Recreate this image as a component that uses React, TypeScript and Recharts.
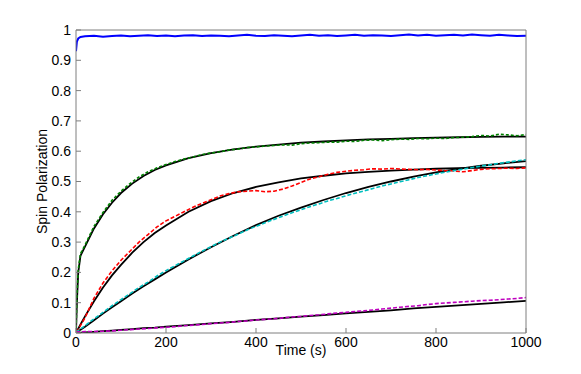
import { LineChart, Line, XAxis, YAxis, Label } from 'recharts';

// sample times (s) for the measured traces
const dataT = [
  0, 2, 5, 10,
  20, 40, 60, 80, 100,
  120, 140, 160, 180, 200,
  220, 240, 260, 280, 300,
  320, 340, 360, 380, 400,
  420, 440, 460, 480, 500,
  520, 540, 560, 580, 600,
  620, 640, 660, 680, 700,
  720, 740, 760, 780, 800,
  820, 840, 860, 880, 900,
  920, 940, 960, 980, 1000,
];

// sample times (s) for the fitted curves
const fitT = [
  0, 2, 5, 10, 20, 40, 60, 80, 100, 125, 150, 175, 200, 250, 300, 350, 400,
  450, 500, 550, 600, 650, 700, 750, 800, 850, 900, 950, 1000,
];

const blueData = [
  0.93, 0.962, 0.972, 0.977,
  0.979, 0.981, 0.978, 0.98, 0.982,
  0.979, 0.981, 0.983, 0.98, 0.982,
  0.979, 0.982, 0.983, 0.98, 0.982,
  0.981, 0.979, 0.982, 0.984, 0.981,
  0.98, 0.983, 0.981, 0.979, 0.982,
  0.984, 0.981, 0.983, 0.98, 0.982,
  0.984, 0.981, 0.983, 0.982, 0.98,
  0.983, 0.985, 0.982, 0.984, 0.981,
  0.983, 0.984, 0.982, 0.985, 0.983,
  0.981, 0.984, 0.982, 0.98, 0.981,
];

const greenData = [
  0, 0.12, 0.21, 0.262,
  0.29, 0.352, 0.398, 0.438, 0.468,
  0.493, 0.515, 0.532, 0.545, 0.556,
  0.566, 0.574, 0.581, 0.589, 0.594,
  0.598, 0.604, 0.607, 0.612, 0.614,
  0.617, 0.619, 0.621, 0.62, 0.625,
  0.627, 0.628, 0.63, 0.63, 0.633,
  0.632, 0.636, 0.637, 0.635, 0.638,
  0.64, 0.639, 0.642, 0.641, 0.643,
  0.642, 0.645, 0.646, 0.648, 0.652,
  0.65, 0.656, 0.654, 0.651, 0.655,
];

const redData = [
  0.005, 0.006, 0.012, 0.025,
  0.05, 0.115, 0.165, 0.205, 0.24,
  0.27, 0.3, 0.325, 0.35, 0.37,
  0.385, 0.4, 0.415, 0.428, 0.44,
  0.452, 0.46, 0.466, 0.468, 0.47,
  0.466, 0.468, 0.475, 0.485, 0.497,
  0.508, 0.516, 0.524, 0.53, 0.534,
  0.537, 0.539, 0.542, 0.541, 0.543,
  0.541, 0.54, 0.539, 0.54, 0.538,
  0.536, 0.535, 0.532, 0.536, 0.54,
  0.542, 0.543, 0.544, 0.543, 0.545,
];

const cyanData = [
  0.003, 0.005, 0.008, 0.013,
  0.024, 0.047, 0.068, 0.09, 0.11,
  0.13, 0.15, 0.168, 0.188, 0.206,
  0.222, 0.238, 0.254, 0.27, 0.285,
  0.3, 0.313, 0.326, 0.34, 0.352,
  0.364, 0.375, 0.386, 0.397, 0.407,
  0.417, 0.426, 0.436, 0.444, 0.453,
  0.461, 0.469, 0.477, 0.485, 0.492,
  0.499, 0.506, 0.513, 0.519, 0.525,
  0.531, 0.536, 0.541, 0.546, 0.551,
  0.555, 0.56, 0.564, 0.568, 0.572,
];

const magentaData = [
  0.004, 0.004, 0.004, 0.004,
  0.005, 0.005, 0.006, 0.007, 0.009,
  0.011, 0.013, 0.015, 0.017, 0.019,
  0.021, 0.024, 0.026, 0.028, 0.031,
  0.033, 0.035, 0.038, 0.04, 0.043,
  0.045, 0.047, 0.05, 0.053, 0.055,
  0.058, 0.06, 0.063, 0.066, 0.068,
  0.071, 0.073, 0.076, 0.079, 0.082,
  0.085, 0.088, 0.09, 0.094, 0.097,
  0.099, 0.101, 0.103, 0.105, 0.107,
  0.108, 0.11, 0.112, 0.114, 0.117,
];

const greenFit = [
  0, 0.1, 0.2, 0.255, 0.285, 0.345, 0.392, 0.43, 0.462, 0.493, 0.518, 0.538,
  0.553, 0.577, 0.594, 0.606, 0.615, 0.622, 0.628, 0.632, 0.636, 0.639, 0.641,
  0.643, 0.645, 0.646, 0.647, 0.648, 0.648,
];

const redFit = [
  0, 0.006, 0.014, 0.028, 0.055, 0.105, 0.15, 0.19, 0.225, 0.265, 0.3, 0.33,
  0.355, 0.4, 0.435, 0.462, 0.482, 0.497, 0.51, 0.519, 0.527, 0.532, 0.536,
  0.539, 0.542, 0.544, 0.545, 0.546, 0.547,
];

const cyanFit = [
  0, 0.002, 0.005, 0.011, 0.021, 0.042, 0.064, 0.085, 0.105, 0.13, 0.154,
  0.177, 0.2, 0.243, 0.283, 0.321, 0.356, 0.387, 0.414, 0.439, 0.462, 0.482,
  0.5, 0.516, 0.53, 0.542, 0.552, 0.56, 0.567,
];

const magentaFit = [
  0, 0, 0.001, 0.001, 0.002, 0.004, 0.006, 0.008, 0.01, 0.013, 0.016, 0.018,
  0.021, 0.026, 0.032, 0.037, 0.043, 0.048, 0.054, 0.059, 0.065, 0.07, 0.075,
  0.081, 0.086, 0.091, 0.096, 0.101, 0.106,
];

const xTicks = [0, 200, 400, 600, 800, 1000];
const yTicks = [0, 0.1, 0.2, 0.3, 0.4, 0.5, 0.6, 0.7, 0.8, 0.9, 1];

const toPoints = (ts: number[], vs: number[]) =>
  ts.map((t, i) => ({ t, v: vs[i] })).filter((p) => p.v !== undefined);

const FONT = "'Liberation Sans', Arial, Helvetica, sans-serif";
const AXIS_GRAY = '#7f7f7f';
const tickStyle = { fontSize: 14, fill: '#000', fontFamily: FONT };

const measured = [
  { name: 'blue', color: '#0000ff', values: blueData, dash: undefined },
  { name: 'green', color: '#008000', values: greenData, dash: '3 2' },
  { name: 'red', color: '#ff0000', values: redData, dash: '4 2' },
  { name: 'cyan', color: '#00bfbf', values: cyanData, dash: '4 2' },
  { name: 'magenta', color: '#bf00bf', values: magentaData, dash: '4 2' },
];

const fits = [
  { name: 'green fit', values: greenFit },
  { name: 'red fit', values: redFit },
  { name: 'cyan fit', values: cyanFit },
  { name: 'magenta fit', values: magentaFit },
];

export default function App() {
  return (
    <div style={{ position: 'absolute', left: 0, top: 0, background: '#fff' }}>
      <LineChart
        width={581}
        height={374}
        margin={{ top: 29, right: 54, bottom: 0, left: 0 }}
      >
        <XAxis
          xAxisId="bottom"
          type="number"
          dataKey="t"
          domain={[0, 1000]}
          ticks={xTicks}
          height={41}
          tickSize={-5}
          tickMargin={9}
          stroke={AXIS_GRAY}
          tick={tickStyle}
          allowDataOverflow
        >
          <Label
            value="Time (s)"
            position="insideBottom"
            offset={19}
            style={{ fontSize: 14, fill: '#000', fontFamily: FONT }}
          />
        </XAxis>
        <XAxis
          xAxisId="top"
          orientation="top"
          type="number"
          dataKey="t"
          domain={[0, 1000]}
          ticks={xTicks}
          height={1}
          tickSize={-5}
          stroke={AXIS_GRAY}
          tick={false}
          allowDataOverflow
        />
        <YAxis
          yAxisId="left"
          type="number"
          domain={[0, 1]}
          ticks={yTicks}
          width={76}
          tickSize={-5}
          tickMargin={10}
          stroke={AXIS_GRAY}
          tick={tickStyle}
          allowDataOverflow
        >
          <Label
            content={({ viewBox }: any) => (
              <text
                x={viewBox.x + 47}
                y={viewBox.y + viewBox.height / 2}
                transform={`rotate(-90, ${viewBox.x + 47}, ${viewBox.y + viewBox.height / 2})`}
                textAnchor="middle"
                fontSize={14}
                fontFamily={FONT}
                fill="#000"
              >
                Spin Polarization
              </text>
            )}
          />
        </YAxis>
        <YAxis
          yAxisId="right"
          orientation="right"
          type="number"
          domain={[0, 1]}
          ticks={yTicks}
          width={1}
          tickSize={-5}
          stroke={AXIS_GRAY}
          tick={false}
          allowDataOverflow
        />
        {fits.map((f) => (
          <Line
            key={f.name}
            name={f.name}
            xAxisId="bottom"
            yAxisId="left"
            data={toPoints(fitT, f.values)}
            dataKey="v"
            stroke="#000"
            strokeWidth={1.8}
            dot={false}
            isAnimationActive={false}
            type="linear"
          />
        ))}
        {measured.map((m) => (
          <Line
            key={m.name}
            name={m.name}
            xAxisId="bottom"
            yAxisId="left"
            data={toPoints(dataT, m.values)}
            dataKey="v"
            stroke={m.color}
            strokeWidth={m.dash ? 1.6 : 2}
            strokeDasharray={m.dash}
            dot={false}
            isAnimationActive={false}
            type="linear"
          />
        ))}
      </LineChart>
    </div>
  );
}
